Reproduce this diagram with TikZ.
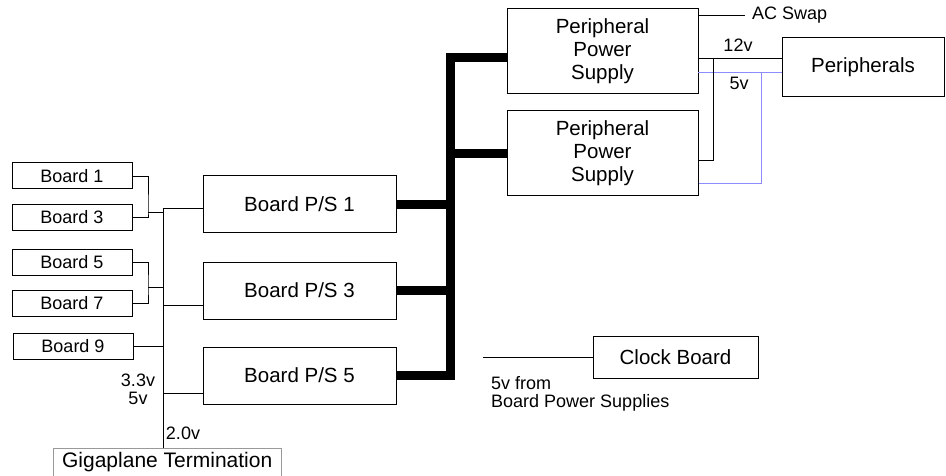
\documentclass[tikz,border=0pt]{standalone}
\usepackage{fontspec}
\setmainfont{Liberation Sans}
\usetikzlibrary{calc}
\definecolor{fivev}{RGB}{140,140,255}
\begin{document}
\begin{tikzpicture}[x=1pt,y=-1pt,
  box/.style={draw, line width=1pt, inner sep=0pt, align=center},
  big/.style={font=\fontsize{20.5}{23}\selectfont},
  small/.style={font=\fontsize{18}{18}\selectfont},
  wire/.style={line width=0.9pt},
  bus/.style={line width=9pt},
  lbl/.style={inner sep=0pt, small, align=center}]
\useasboundingbox (0,0) rectangle (946,476);

% boards
\node[box,small,minimum width=120pt,minimum height=26pt] (b1) at (72,176) {Board 1};
\node[box,small,minimum width=120pt,minimum height=26pt] (b3) at (72,217.5) {Board 3};
\node[box,small,minimum width=120pt,minimum height=26pt] (b5) at (72,262.5) {Board 5};
\node[box,small,minimum width=120pt,minimum height=26pt] (b7) at (72,303.5) {Board 7};
\node[box,small,minimum width=120pt,minimum height=26pt] (b9) at (73,346) {Board 9};

% board power supplies
\node[box,big,minimum width=193pt,minimum height=57pt] (ps1) at (299.5,204.5) {Board P/S 1};
\node[box,big,minimum width=193pt,minimum height=57pt] (ps3) at (299.5,290.5) {Board P/S 3};
\node[box,big,minimum width=193pt,minimum height=57pt] (ps5) at (299.5,375.5) {Board P/S 5};

% peripheral power supplies
\node[box,big,minimum width=191pt,minimum height=85pt] (pps1) at (602.5,51.5) {Peripheral\\Power\\Supply};
\node[box,big,minimum width=191pt,minimum height=85pt] (pps2) at (602.5,153.5) {Peripheral\\Power\\Supply};
\node[box,big,minimum width=162pt,minimum height=59pt] (per) at (863,67.5) {Peripherals};
\node[box,big,minimum width=165pt,minimum height=42pt] (clock) at (675.5,357) {Clock Board};

% gigaplane
\node[inner sep=0pt,font=\fontsize{21}{21}\selectfont,minimum width=228pt,minimum height=28pt,anchor=north west] (gig) at (53,448) {Gigaplane Termination};
\draw[black!40,line width=1pt] (gig.south west) -- (gig.north west) -- (gig.north east) -- (gig.south east);

% left wiring
\coordinate (bt) at (163,208);
\coordinate (j1) at (148,212);
\coordinate (j2) at (148,287);
\coordinate (p3) at (163,305);
\coordinate (p5) at (163,393);
\draw[wire] (b1.east) -| (j1) |- (b3.east);
\draw[wire] (j1) -- (j1 -| bt);
\draw[wire] (b5.east) -| (j2) |- (b7.east);
\draw[wire] (j2) -- (j2 -| bt);
\draw[wire] (b9.east) -- (b9.east -| bt);
\draw[wire] (bt) -- (bt |- gig.north);
\draw[wire] (bt) -- (bt -| ps1.west);
\draw[wire] (p3) -- (p3 -| ps3.west);
\draw[wire] (p5) -- (p5 -| ps5.west);

\node[lbl] (l33) at (138,389) {3.3v\\5v};
\node[lbl] (l20) at (183,433) {2.0v};

% thick bus
\coordinate (t1) at (450.5,57.5);
\draw[bus] (t1 -| pps1.west) -- (t1) |- (ps5.east);
\draw[bus] (pps2.west) -- (pps2.west -| t1);
\draw[bus] (ps1.east) -- (ps1.east -| t1);
\draw[bus] (ps3.east) -- (ps3.east -| t1);

% right wiring
\coordinate (ac1) at (698,15);
\coordinate (ac2) at (745,15);
\draw[wire] (ac1) -- (ac2);
\node[lbl,anchor=west] (acl) at (752,15) {AC Swap};

\coordinate (a5) at (698,72);
\coordinate (k5) at (761,72);
\coordinate (k5b) at (761,183);
\draw[wire,fivev] (a5) -- (a5 -| per.west);
\draw[wire,fivev] (k5) -- (k5b) -- (k5b -| pps2.east);

\coordinate (a12) at (698,58);
\coordinate (k12) at (713,58);
\coordinate (k12b) at (713,160);
\draw[wire] (a12) -- (a12 -| per.west);
\draw[wire] (k12) -- (k12b) -- (k12b -| pps2.east);

\node[lbl] (l12) at (738,45) {12v};
\node[lbl] (l5) at (739,83) {5v};

% clock
\coordinate (clk) at (483,357);
\draw[wire] (clk) -- (clock.west);
\node[lbl,anchor=west] (f1) at (491,383) {5v from};
\node[lbl,anchor=west] (f2) at (491,403) {Board Power Supplies};
\end{tikzpicture}
\end{document}
